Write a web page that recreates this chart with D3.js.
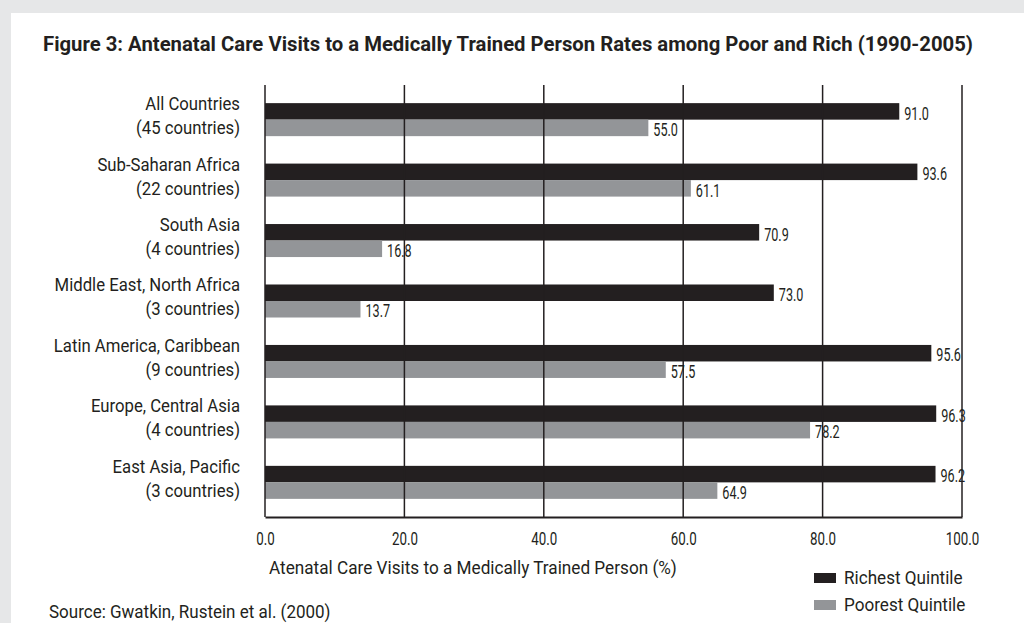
<!DOCTYPE html>
<html>
<head>
<meta charset="utf-8">
<script src="https://cdn.jsdelivr.net/npm/d3@7"></script>
<style>
  body { margin: 0; background: #e6e7e8; }
  text { font-family: Roboto, "Noto Sans", sans-serif; fill: #231f20; }
</style>
</head>
<body>
<svg id="chart" width="1024" height="623"></svg>
<script>
// Data
const regions = ["All Countries", "Sub-Saharan Africa", "South Asia", "Middle East, North Africa",
                 "Latin America, Caribbean", "Europe, Central Asia", "East Asia, Pacific"];
const regionCounts = ["(45 countries)", "(22 countries)", "(4 countries)", "(3 countries)",
                      "(9 countries)", "(4 countries)", "(3 countries)"];
const richest = [91.0, 93.6, 70.9, 73.0, 95.6, 96.3, 96.2];
const poorest = [55.0, 61.1, 16.8, 13.7, 57.5, 78.2, 64.9];
const seriesNames = ["Richest Quintile", "Poorest Quintile"];
const xTicks = [0, 20, 40, 60, 80, 100];

const colors = { "Richest Quintile": "#231f20", "Poorest Quintile": "#939598" };
const ink = "#231f20";

const svg = d3.select("#chart");

// squeeze text horizontally to mimic the condensed face of the original
function condense(sel, k) {
    sel.each(function () {
        const w = this.getComputedTextLength();
        d3.select(this).attr("textLength", w * k).attr("lengthAdjust", "spacingAndGlyphs");
    });
}

// White panel
svg.append("rect")
    .attr("x", 11).attr("y", 13)
    .attr("width", 1024).attr("height", 623)
    .attr("fill", "#fff");

// Title
svg.append("text")
    .attr("x", 43).attr("y", 51)
    .attr("font-size", 21).attr("font-weight", "bold")
    .attr("textLength", 930).attr("lengthAdjust", "spacingAndGlyphs")
    .text("Figure 3: Antenatal Care Visits to a Medically Trained Person Rates among Poor and Rich (1990-2005)");

const plot = { left: 265, right: 962, top: 85, bottom: 517 };

const x = d3.scaleLinear().domain([0, 100]).range([plot.left, plot.right]);
const y = d3.scaleBand().domain(regions).range([plot.top, plot.bottom])
    .paddingInner(0.454).paddingOuter(0.3);
const ySub = d3.scaleBand().domain(seriesNames).range([0, y.bandwidth()]);

const rows = regions.map((r, i) => ({
    region: r, count: regionCounts[i],
    values: [
        { series: seriesNames[0], value: richest[i] },
        { series: seriesNames[1], value: poorest[i] }
    ]
}));

// Bars
const groups = svg.append("g").selectAll("g.group")
    .data(rows).enter().append("g")
    .attr("class", "group")
    .attr("transform", d => `translate(0,${y(d.region)})`);

groups.selectAll("rect")
    .data(d => d.values).enter().append("rect")
    .attr("x", x(0))
    .attr("y", d => ySub(d.series))
    .attr("width", d => x(d.value) - x(0))
    .attr("height", ySub.bandwidth())
    .attr("fill", d => colors[d.series]);

// Vertical grid lines drawn on top of bars
svg.append("g").selectAll("line.grid")
    .data(xTicks).enter().append("line")
    .attr("class", "grid")
    .attr("x1", d => x(d)).attr("x2", d => x(d))
    .attr("y1", plot.top).attr("y2", plot.bottom)
    .attr("stroke", ink).attr("stroke-width", 1.5);

// Bottom axis line + tick labels
const xAxis = svg.append("g")
    .attr("transform", `translate(0,${plot.bottom})`)
    .call(d3.axisBottom(x).tickValues(xTicks).tickFormat(d3.format(".1f")).tickSize(0).tickPadding(15));
xAxis.select(".domain").attr("stroke", ink).attr("stroke-width", 2);
xAxis.selectAll("text")
    .attr("font-size", 18).attr("font-family", "Roboto, sans-serif").attr("fill", ink)
    .call(condense, 0.74);

// Value labels
groups.selectAll("text.val")
    .data(d => d.values).enter().append("text")
    .attr("class", "val")
    .attr("x", d => x(d.value) + 5)
    .attr("y", d => ySub(d.series) + ySub.bandwidth())
    .attr("font-size", 18)
    .text(d => d3.format(".1f")(d.value))
    .call(condense, 0.7);

// Category labels
const cat = groups.append("text")
    .attr("text-anchor", "end")
    .attr("font-size", 19);
cat.append("tspan").attr("x", 240).attr("y", 7).text(d => d.region);
cat.append("tspan").attr("x", 240).attr("y", 31).text(d => d.count);
cat.selectAll("tspan").call(condense, 0.88);

// Axis title
svg.append("text")
    .attr("x", 269).attr("y", 574)
    .attr("font-size", 18)
    .text("Atenatal Care Visits to a Medically Trained Person (%)")
    .call(condense, 0.954);

// Source
svg.append("text")
    .attr("x", 49).attr("y", 618)
    .attr("font-size", 18)
    .text("Source: Gwatkin, Rustein et al. (2000)")
    .call(condense, 0.944);

// Legend
const legend = svg.append("g").selectAll("g.leg")
    .data(seriesNames).enter().append("g")
    .attr("class", "leg")
    .attr("transform", (d, i) => `translate(814,${573 + i * 27})`);
legend.append("rect")
    .attr("width", 22).attr("height", 10)
    .attr("fill", d => colors[d]);
legend.append("text")
    .attr("x", 30).attr("y", 11)
    .attr("font-size", 18)
    .text(d => d)
    .call(condense, 0.95);
</script>
</body>
</html>
